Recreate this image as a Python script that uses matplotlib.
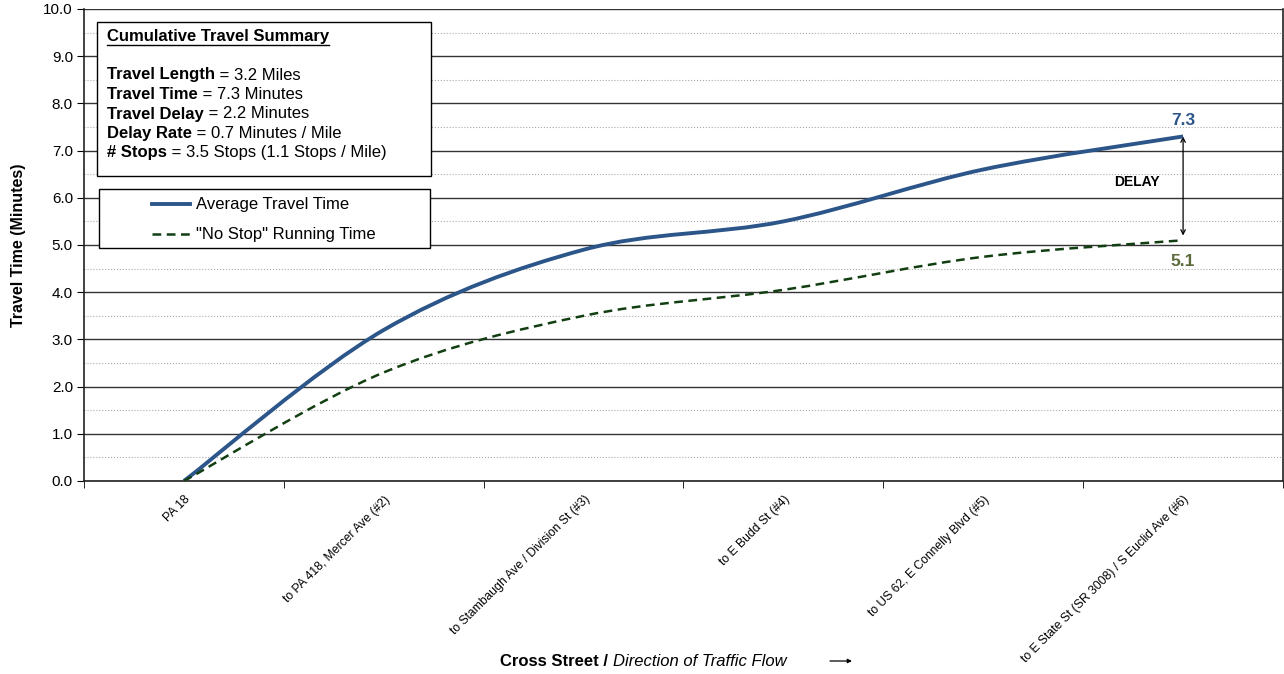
import numpy as np
import matplotlib.pyplot as plt
from matplotlib.path import Path
from matplotlib.patches import PathPatch
from matplotlib.lines import Line2D

plt.rcParams['font.family'] = ['Liberation Sans', 'DejaVu Sans']

# dados
ruas = ['PA 18', 'to PA 418, Mercer Ave (#2)', 'to Stambaugh Ave / Division St (#3)',
        'to E Budd St (#4)', 'to US 62, E Connelly Blvd (#5)',
        'to E State St (SR 3008) / S Euclid Ave (#6)']
tempo_medio = [0.0, 3.2, 4.9, 5.5, 6.6, 7.3]
tempo_sem_parada = [0.0, 2.3, 3.5, 4.05, 4.75, 5.1]

resumo = ['Travel Length', 'Travel Time', 'Travel Delay', 'Delay Rate', '# Stops']
resumo_val = ['3.2 Miles', '7.3 Minutes', '2.2 Minutes', '0.7 Minutes / Mile',
              '3.5 Stops (1.1 Stops / Mile)']

azul = '#2c5689'
verde = '#123f12'
oliva = '#5b6b3a'
W, H = 1284, 674


def curva_suave(x, y):
    # spline tipo Excel (Catmull-Rom em Bezier cúbica)
    p = np.column_stack([x, y]).astype(float)
    n = len(p)
    verts = [p[0]]
    codes = [Path.MOVETO]
    for i in range(n - 1):
        p0 = p[i - 1] if i > 0 else p[i]
        p3 = p[i + 2] if i + 2 < n else p[i + 1]
        c1 = p[i] + (p[i + 1] - p0) / 6
        c2 = p[i + 1] - (p3 - p[i]) / 6
        verts += [c1, c2, p[i + 1]]
        codes += [Path.CURVE4] * 3
    return Path(verts, codes)


fig = plt.figure(figsize=(12.84, 6.74), dpi=100)
ax = fig.add_axes([84 / W, 1 - 481 / H, 1199 / W, 472 / H])

x = np.arange(len(ruas))
ax.add_patch(PathPatch(curva_suave(x, tempo_medio), fill=False, color=azul, lw=2.8, zorder=4))
ax.add_patch(PathPatch(curva_suave(x, tempo_sem_parada), fill=False, color=verde, lw=1.8,
                       ls=(0, (3.5, 2.2)), zorder=4))

ax.set_xlim(-0.5, 5.5)
ax.set_ylim(0, 10)
ax.set_yticks(np.arange(0, 10.1, 1))
ax.set_yticklabels([f'{v:.1f}' for v in np.arange(0, 10.1, 1)], fontsize=11)
ax.set_yticks(np.arange(0.5, 10, 1), minor=True)
ax.tick_params(axis='y', which='major', length=5, direction='out', pad=3)
ax.tick_params(axis='y', which='minor', length=0)
ax.grid(axis='y', which='major', color='#333333', lw=1.0)
ax.grid(axis='y', which='minor', color='#aaaaaa', lw=0.8, ls=':')
ax.set_axisbelow(True)

ax.set_xticks(x)
ax.set_xticklabels(ruas, rotation=45, ha='right', rotation_mode='anchor', fontsize=8.7)
ax.set_xticks(np.arange(-0.5, 5.6, 1), minor=True)
ax.tick_params(axis='x', which='major', length=0, pad=9)
ax.tick_params(axis='x', which='minor', length=5, direction='out')
for s in ax.spines.values():
    s.set_color('#222222')
    s.set_linewidth(1.2)
ax.spines['top'].set_visible(False)

ax.set_ylabel('Travel Time (Minutes)', fontsize=11.5, fontweight='bold')
ax.yaxis.set_label_coords((26 - 84) / 1199, 0.5)

# caixa de resumo
bx, by, bw, bh = 97, 22, 334, 154
fig.patches.append(plt.Rectangle((bx / W, 1 - (by + bh) / H), bw / W, bh / H,
                                 transform=fig.transFigure, fc='white', ec='black', lw=1, zorder=5))
tt = fig.text(107 / W, 1 - 36 / H, 'Cumulative Travel Summary', fontsize=12, fontweight='bold',
              va='center', zorder=6)
fig.canvas.draw()
bb = tt.get_window_extent()
fig.add_artist(Line2D([107 / W, bb.x1 / W], [1 - 45 / H] * 2, color='black', lw=1, zorder=6))
for i, (k, v) in enumerate(zip(resumo, resumo_val)):
    yy = 1 - (75 + 19.5 * i) / H
    t = fig.text(107 / W, yy, k, fontsize=12, fontweight='bold', va='center', zorder=6)
    fig.canvas.draw()
    bb = t.get_window_extent()
    fig.text(bb.x1 / W, yy, ' = ' + v, fontsize=12, va='center', zorder=6)

# legenda
lx, ly, lw_, lh = 99, 189, 331, 59
fig.patches.append(plt.Rectangle((lx / W, 1 - (ly + lh) / H), lw_ / W, lh / H,
                                 transform=fig.transFigure, fc='white', ec='black', lw=1, zorder=5))
fig.add_artist(Line2D([152 / W, 190 / W], [1 - 204 / H] * 2, color=azul, lw=2.8, zorder=6))
fig.add_artist(Line2D([152 / W, 190 / W], [1 - 234 / H] * 2, color=verde, lw=1.8,
                      ls=(0, (3.5, 2.2)), zorder=6))
fig.text(196 / W, 1 - 204 / H, 'Average Travel Time', fontsize=12, va='center', zorder=6)
fig.text(196 / W, 1 - 234 / H, '"No Stop" Running Time', fontsize=12, va='center', zorder=6)

# anotações
ax.annotate('', xy=(5, tempo_medio[-1]), xytext=(5, tempo_sem_parada[-1] + 0.1),
            arrowprops=dict(arrowstyle='<->', color='black', lw=0.9, shrinkA=0, shrinkB=0,
                            mutation_scale=8))
ax.text(4.77, 6.33, 'DELAY', fontsize=10, fontweight='bold', ha='center', va='center')
ax.text(5.0, tempo_medio[-1] + 0.17, f'{tempo_medio[-1]:.1f}', color=azul, fontsize=12.5,
        fontweight='bold', ha='center', va='bottom')
ax.text(5.0, tempo_sem_parada[-1] - 0.3, f'{tempo_sem_parada[-1]:.1f}', color=oliva, fontsize=12.5,
        fontweight='bold', ha='center', va='top')

# título do eixo x
t1 = fig.text(500 / W, 1 - 662 / H, 'Cross Street / ', fontsize=12, fontweight='bold',
              va='center')
fig.canvas.draw()
bb = t1.get_window_extent()
fig.text(bb.x1 / W, 1 - 662 / H, 'Direction of Traffic Flow', fontsize=12,
         style='italic', va='center')
ax.annotate('', xy=(852 / W, 1 - 661 / H), xytext=(830 / W, 1 - 661 / H),
            xycoords='figure fraction', textcoords='figure fraction',
            arrowprops=dict(arrowstyle='-|>', color='black', lw=0.9, mutation_scale=6,
                            shrinkA=0, shrinkB=0))

plt.savefig('out.png', dpi=100)
